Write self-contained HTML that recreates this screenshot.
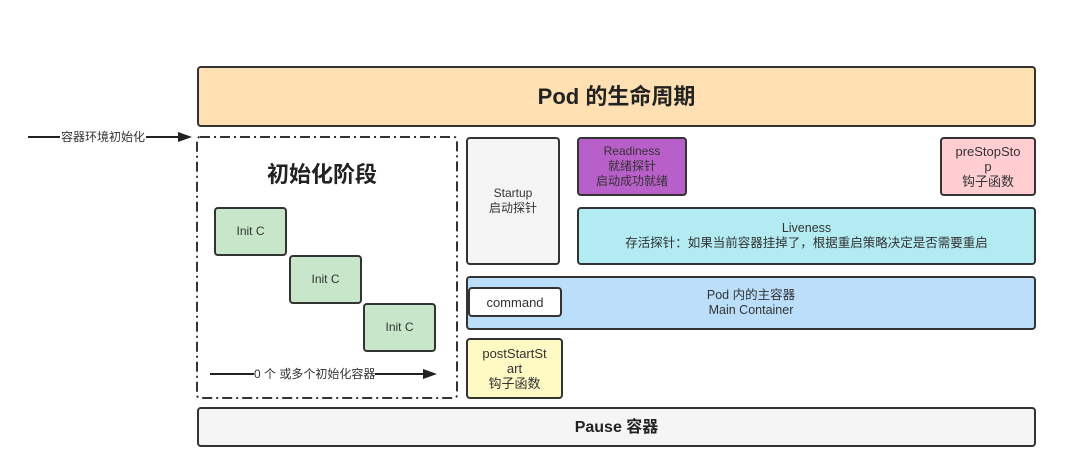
<!DOCTYPE html>
<html><head><meta charset="utf-8"><style>
body{margin:0;width:1089px;height:473px;background:#fff;position:relative;overflow:hidden;font-family:"Liberation Sans","Noto Sans CJK SC",sans-serif;color:#333}
.b{position:absolute;box-sizing:border-box;border:2px solid #333;border-radius:4px;display:flex;align-items:center;justify-content:center;text-align:center;font-size:12px;line-height:15px}
.t{position:absolute;white-space:nowrap;font-size:12px;line-height:14px}
</style></head><body>
<div class="b" style="left:197px;top:66px;width:839px;height:61px;background:#ffe0b2;font-size:22px;font-weight:bold;color:#222">Pod 的生命周期</div>
<svg style="position:absolute;left:0;top:0" width="1089" height="473">
<line x1="28" y1="137" x2="180" y2="137" stroke="#222" stroke-width="2"/>
<polygon points="192,137 178,132 178,142" fill="#222"/>
<line x1="210" y1="374" x2="425" y2="374" stroke="#222" stroke-width="2"/>
<polygon points="437,374 423,369 423,379" fill="#222"/>
<rect x="197" y="137" width="260" height="261" rx="3" fill="none" stroke="#333" stroke-width="2" stroke-dasharray="10,4,2,4"/>
</svg>
<div class="t" style="left:60px;top:130px;background:#fff;padding:0 1px">容器环境初始化</div>
<div class="t" style="left:267px;top:162px;font-size:22px;line-height:26px;font-weight:bold;color:#222">初始化阶段</div>
<div class="b" style="left:214px;top:207px;width:73px;height:49px;background:#c8e6c9">Init C</div>
<div class="b" style="left:289px;top:255px;width:73px;height:49px;background:#c8e6c9">Init C</div>
<div class="b" style="left:363px;top:303px;width:73px;height:49px;background:#c8e6c9">Init C</div>
<div class="t" style="left:254px;top:367px;background:#fff">0 个 或多个初始化容器</div>
<div class="b" style="left:466px;top:137px;width:94px;height:128px;background:#f5f5f5">Startup<br>启动探针</div>
<div class="b" style="left:577px;top:137px;width:110px;height:59px;background:#b95fc9">Readiness<br>就绪探针<br>启动成功就绪</div>
<div class="b" style="left:940px;top:137px;width:96px;height:59px;background:#ffcdd2;font-size:13px">preStopSto<br>p<br>钩子函数</div>
<div class="b" style="left:577px;top:207px;width:459px;height:58px;background:#b2ebf2;font-size:12.5px">Liveness<br>存活探针：如果当前容器挂掉了，根据重启策略决定是否需要重启</div>
<div class="b" style="left:466px;top:276px;width:570px;height:54px;background:#bbdefb;font-size:12.5px">Pod 内的主容器<br>Main Container</div>
<div class="b" style="left:468px;top:287px;width:94px;height:30px;background:#fff;font-size:13px">command</div>
<div class="b" style="left:466px;top:338px;width:97px;height:61px;background:#fff9c4;font-size:13px">postStartSt<br>art<br>钩子函数</div>
<div class="b" style="left:197px;top:407px;width:839px;height:40px;background:#f5f5f5;font-size:16px;font-weight:bold;color:#222">Pause 容器</div>
</body></html>
